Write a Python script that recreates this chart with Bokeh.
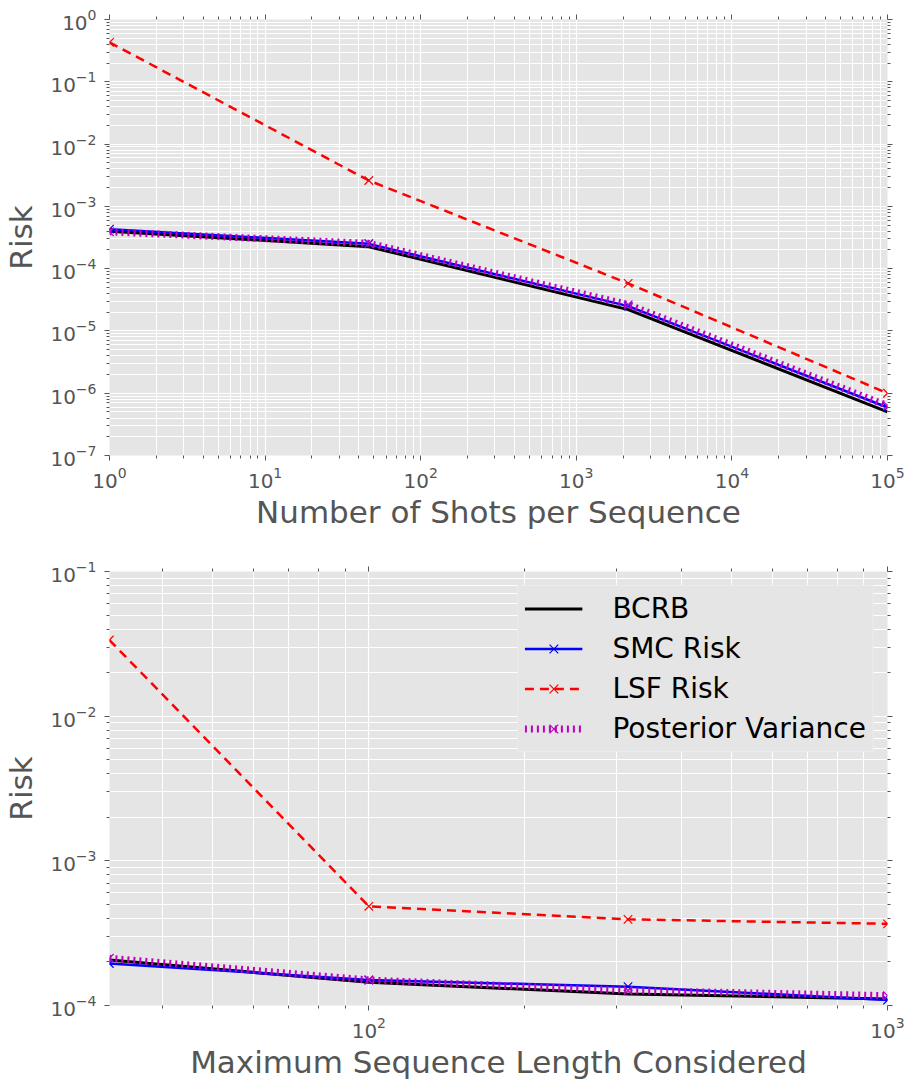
from bokeh.plotting import figure
from bokeh.models import (LogAxis, Legend, LegendItem, Range1d, CustomJSTickFormatter,
                          FixedTicker, LogTickFormatter)
from bokeh.layouts import column
from bokeh.embed import file_html
from bokeh.resources import INLINE

# ---------------- data ----------------
shots = [1, 46.4, 2154, 100000]
shots_bcrb = [4.0e-4, 2.25e-4, 2.2e-5, 5.0e-7]
shots_smc = [4.3e-4, 2.5e-4, 2.5e-5, 5.9e-7]
shots_lsf = [0.43, 2.6e-3, 5.8e-5, 1.0e-6]
shots_pv = [3.9e-4, 2.55e-4, 2.65e-5, 6.3e-7]

seqlen = [31.6, 100, 316, 1000]
seq_bcrb = [2.06e-4, 1.45e-4, 1.2e-4, 1.11e-4]
seq_smc = [1.95e-4, 1.5e-4, 1.35e-4, 1.09e-4]
seq_lsf = [3.36e-2, 4.85e-4, 3.94e-4, 3.67e-4]
seq_pv = [2.12e-4, 1.5e-4, 1.27e-4, 1.17e-4]

labels = ["BCRB", "SMC Risk", "LSF Risk", "Posterior Variance"]
x_titles = ["Number of Shots per Sequence", "Maximum Sequence Length Considered"]
y_title = "Risk"

# tick exponents (decades) of each axis
top_x_decades = [0, 1, 2, 3, 4, 5]
top_y_decades = [-7, -6, -5, -4, -3, -2, -1, 0]
bot_x_decades = [1, 2, 3]
bot_y_decades = [-4, -3, -2, -1]

FONT = "DejaVu Sans"
GRAY = "#555555"
BG = "#E5E5E5"
MAG = "#BF00BF"


def log_ticker(decades):
    major = [10.0 ** d for d in decades]
    minor = [k * 10.0 ** d for d in decades[:-1] for k in range(2, 10)]
    return FixedTicker(ticks=major, minor_ticks=minor)


def style_axis(ax):
    ax.axis_line_color = None
    ax.major_tick_line_color = GRAY
    ax.minor_tick_line_color = GRAY
    ax.major_tick_in = 0
    ax.major_tick_out = 5
    ax.minor_tick_in = 0
    ax.minor_tick_out = 3
    ax.major_label_text_font = FONT
    ax.major_label_text_color = GRAY
    ax.major_label_text_font_size = "20px"
    ax.axis_label_text_font = FONT
    ax.axis_label_text_color = GRAY
    ax.axis_label_text_font_size = "31px"
    ax.axis_label_text_font_style = "normal"


def make_fig(height, top, bottom, xr, yr, xdec, ydec, xtitle):
    p = figure(width=907, height=height, x_axis_type="log", y_axis_type="log",
               x_range=Range1d(*xr), y_range=Range1d(*yr),
               output_backend="svg", toolbar_location=None,
               min_border_left=104, min_border_right=20,
               min_border_top=top, min_border_bottom=bottom)
    xt = log_ticker(xdec)
    yt = log_ticker(ydec)
    bottom_ax = p.below[0]
    left_ax = p.left[0]
    bottom_ax.ticker = xt
    left_ax.ticker = yt
    bottom_ax.formatter = LogTickFormatter()
    left_ax.formatter = LogTickFormatter()
    blank = CustomJSTickFormatter(code="return ''")
    top_ax = LogAxis(ticker=xt, formatter=blank, major_label_standoff=0)
    right_ax = LogAxis(ticker=yt, formatter=blank, major_label_standoff=0)
    p.add_layout(top_ax, "above")
    p.add_layout(right_ax, "right")
    p.background_fill_color = BG
    p.border_fill_color = "white"
    p.outline_line_color = None
    p.xgrid.ticker = xt
    p.ygrid.ticker = yt
    p.xgrid.grid_line_color = "white"
    p.ygrid.grid_line_color = "white"
    p.xgrid.minor_grid_line_color = "white"
    p.ygrid.minor_grid_line_color = "white"
    p.xgrid.grid_line_width = 1.2
    p.ygrid.grid_line_width = 1.2
    p.xgrid.minor_grid_line_width = 1
    p.ygrid.minor_grid_line_width = 1
    for ax in [bottom_ax, left_ax, top_ax, right_ax]:
        style_axis(ax)
    top_ax.major_label_standoff = 0
    right_ax.major_label_standoff = 0
    left_ax.major_label_standoff = 8
    left_ax.axis_label = y_title
    left_ax.axis_label_standoff = 8
    bottom_ax.major_label_standoff = 6
    bottom_ax.axis_label_standoff = 3
    bottom_ax.axis_label = xtitle
    return p


def draw(p, x, bcrb, smc, lsf, pv):
    r_b = p.line(x, bcrb, line_color="black", line_width=3)
    r_s = p.line(x, smc, line_color="blue", line_width=2.5)
    m_s = p.scatter(x, smc, marker="x", size=12, line_color="blue", line_width=1.2)
    r_l = p.line(x, lsf, line_color="red", line_width=2.5, line_dash="9 6")
    m_l = p.scatter(x, lsf, marker="x", size=12, line_color="red", line_width=1.2)
    r_p = p.line(x, pv, line_color=MAG, line_width=7, line_dash="2 4")
    m_p = p.scatter(x, pv, marker="x", size=12, line_color=MAG, line_width=1.2)
    return [[r_b], [r_s, m_s], [r_l, m_l], [r_p, m_p]]


p1 = make_fig(535, 19, 80, (1, 1e5), (1e-7, 1), top_x_decades, top_y_decades, x_titles[0])
draw(p1, shots, shots_bcrb, shots_smc, shots_lsf, shots_pv)

p2 = make_fig(551, 36, 81, (31.62, 1000), (1e-4, 1e-1), bot_x_decades, bot_y_decades, x_titles[1])
rs = draw(p2, seqlen, seq_bcrb, seq_smc, seq_lsf, seq_pv)

legend = Legend(items=[LegendItem(label=l, renderers=r) for l, r in zip(labels, rs)],
                location="top_right", margin=14, padding=6, spacing=7,
                glyph_width=58, glyph_height=31, label_height=31, label_standoff=30,
                label_text_font=FONT, label_text_font_size="28px", label_text_color="black",
                background_fill_color=BG, background_fill_alpha=1.0,
                border_line_color="#f4f4f4", border_line_width=1)
p2.add_layout(legend, "center")

layout = column(p1, p2, spacing=0)
open("out.html", "w").write(file_html(layout, INLINE))
